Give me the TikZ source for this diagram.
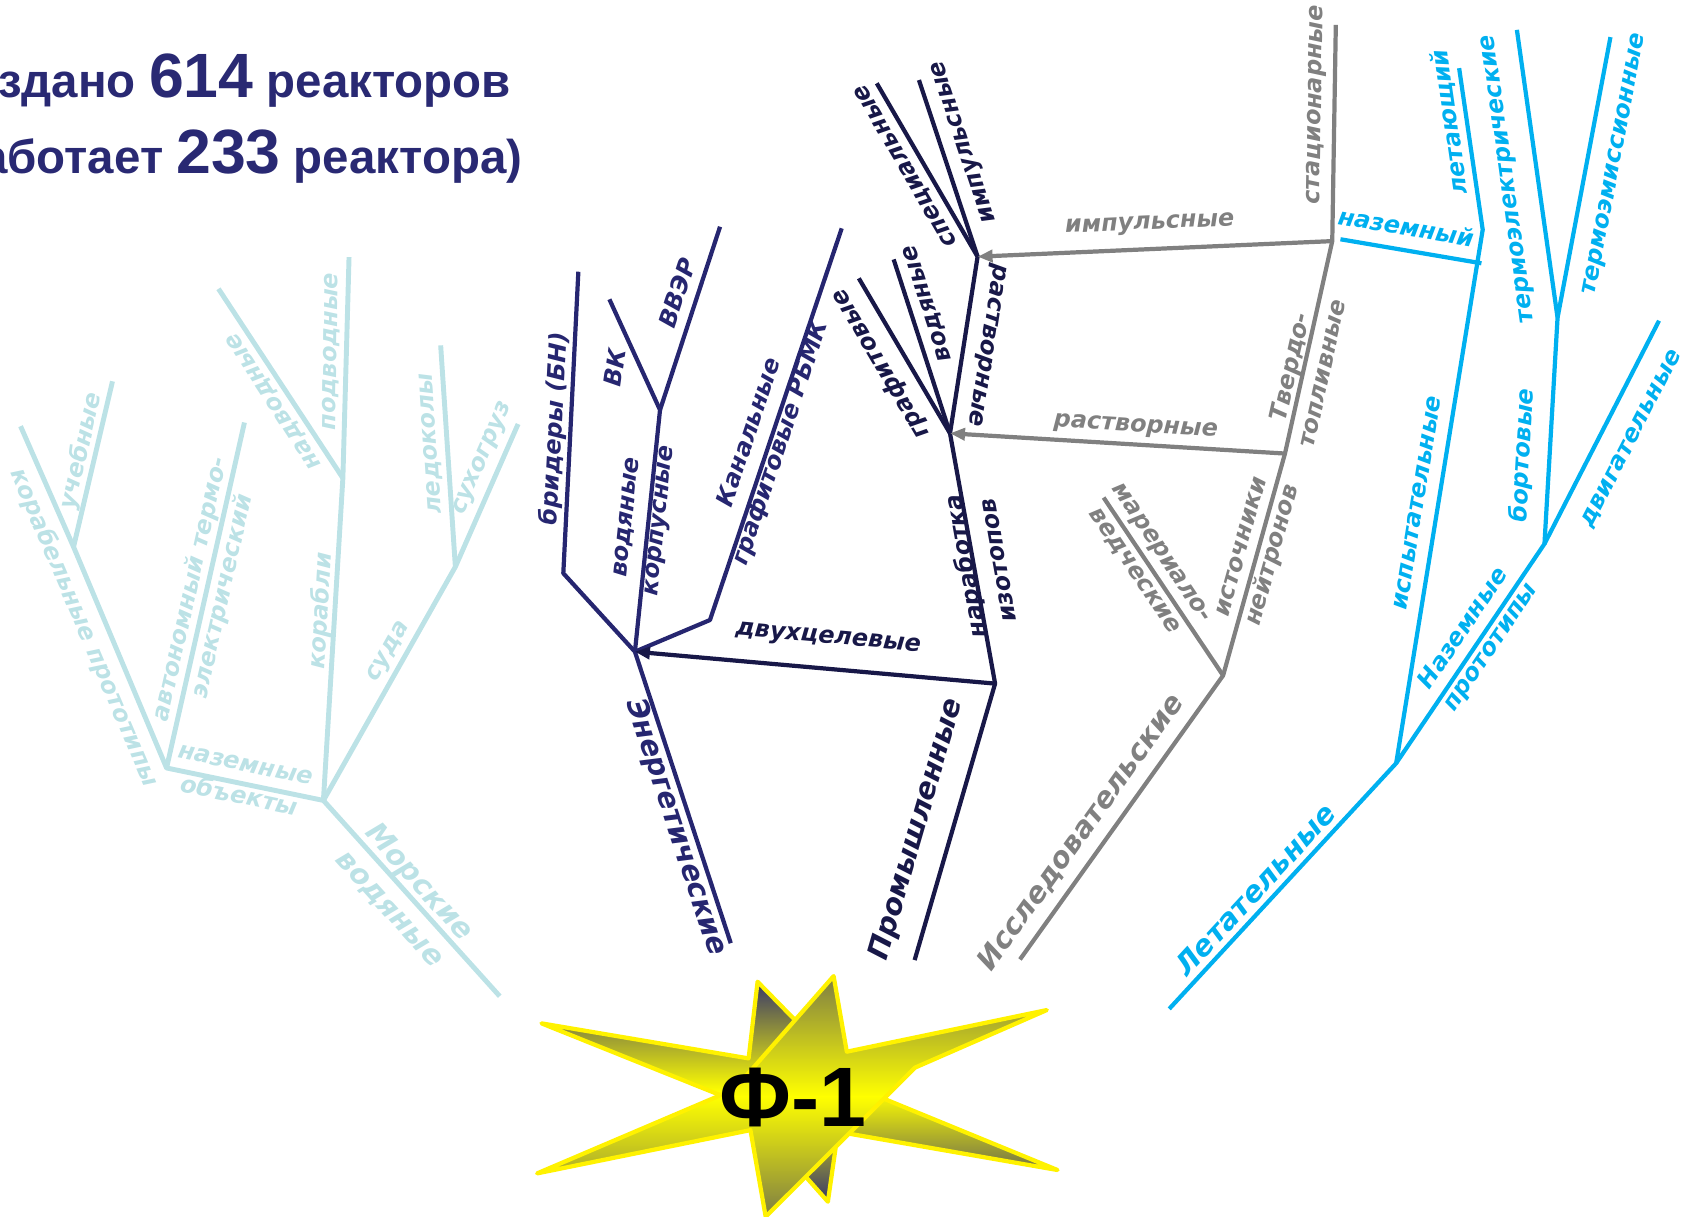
\documentclass[tikz,border=0pt]{standalone}
\usepackage{fontspec}
\usepackage{tikz}
\usetikzlibrary{arrows.meta}

\newfontfamily\lblfont{DejaVu Sans}
\newfontfamily\headfont{Liberation Sans}

\definecolor{seacol}{RGB}{188,226,230}
\definecolor{powercol}{RGB}{38,38,112}
\definecolor{plantcol}{RGB}{24,24,72}
\definecolor{labcol}{RGB}{128,128,128}
\definecolor{aircol}{RGB}{0,176,240}
\definecolor{headcol}{RGB}{41,41,115}
\definecolor{stardark}{RGB}{55,55,105}

\begin{document}
\begin{tikzpicture}[
  x=0.10816mm, y=-0.10816mm,
  branch/.style={line width=1.2pt, line join=round},
  sea/.style={branch, draw=seacol, line width=1.4pt},
  power/.style={branch, draw=powercol},
  plant/.style={branch, draw=plantcol},
  lab/.style={branch, draw=labcol},
  air/.style={branch, draw=aircol},
  arrow/.style={-{Triangle[length=1.5mm,width=1.2mm]}},
  lbl/.style={font=\lblfont\bfseries\itshape\fontsize{6.8}{9.3}\selectfont, inner sep=0pt, align=center},
  biglbl/.style={lbl, font=\lblfont\bfseries\itshape\fontsize{8.2}{11.3}\selectfont},
  head/.style={font=\headfont\bfseries\fontsize{13.5}{16}\selectfont, text=headcol, inner sep=0pt, anchor=base east},
  burst/.style={draw=yellow, line width=1.2pt, line join=round}
]
\clip[use as bounding box] (0,0) rectangle (1568,1125);

\node[head] (built) at (473,89.7) {Создано {\fontsize{17.8}{20}\selectfont 614} реакторов};
\node[head] (working) at (483.5,160) {(работает {\fontsize{17.8}{20}\selectfont 233} реактора)};

% sea
\coordinate (seaRoot) at (462,921);
\coordinate (seaHub) at (299,740);
\coordinate (groundHub) at (154,710);
\coordinate (trainHub) at (68,505.6);
\coordinate (protoTop) at (19,394);
\coordinate (trainTop) at (104,352.5);
\coordinate (autoTop) at (226,390.6);
\coordinate (shipHub) at (317,442);
\coordinate (subTop) at (322.7,237.7);
\coordinate (surfTop) at (202,267);
\coordinate (vesselHub) at (421,524);
\coordinate (iceTop) at (407.4,319.3);
\coordinate (cargoTop) at (479,392);

\draw[sea] (seaRoot) -- (seaHub) -- (groundHub) -- (trainHub) -- (protoTop);
\draw[sea] (trainHub) -- (trainTop);
\draw[sea] (groundHub) -- (autoTop);
\draw[sea] (seaHub) -- (shipHub) -- (subTop);
\draw[sea] (shipHub) -- (surfTop);
\draw[sea] (seaHub) -- (vesselHub) -- (iceTop);
\draw[sea] (vesselHub) -- (cargoTop);

\node[lbl, text=seacol, rotate=-66.9] (shipProto) at (77.8,580.5) {корабельные прототипы};
\node[lbl, text=seacol, rotate=76.8] (training) at (75,417) {учебные};
\node[lbl, text=seacol, rotate=77.3] (autonomous) at (191,548) {автономный термо-\\электрический};
\node[lbl, text=seacol, rotate=-11.7] (groundObj) at (224,722) {наземные\\объекты};
\node[biglbl, text=seacol, rotate=-48] (marine) at (374,828) {Морские\\водяные};
\node[lbl, text=seacol, rotate=86.5] (ships) at (297,565) {корабли};
\node[lbl, text=seacol, rotate=89] (submarine) at (306.7,325) {подводные};
\node[lbl, text=seacol, rotate=123] (surface) at (253.5,370.6) {надводные};
\node[lbl, text=seacol, rotate=60.5] (vessels) at (360,603) {суда};
\node[lbl, text=seacol, rotate=94] (icebreak) at (399,410) {ледоколы};
\node[lbl, text=seacol, rotate=66.3] (cargo) at (447,424) {сухогруз};

% power
\coordinate (powerRoot) at (675.6,872);
\coordinate (powerHub) at (587,602.5);
\coordinate (breedBend) at (520.8,530);
\coordinate (breedTop) at (534.7,251.2);
\coordinate (waterHub) at (610.2,379);
\coordinate (vkTop) at (563.4,276.7);
\coordinate (vverTop) at (665.7,209.6);
\coordinate (rbmkBend) at (656.4,573.2);
\coordinate (rbmkTop) at (778.2,211.1);

\draw[power] (powerRoot) -- (powerHub) -- (breedBend) -- (breedTop);
\draw[power] (powerHub) -- (waterHub) -- (vkTop);
\draw[power] (waterHub) -- (vverTop);
\draw[power] (powerHub) -- (rbmkBend) -- (rbmkTop);

\node[lbl, text=powercol, rotate=87] (breeders) at (513,396) {бридеры (БН)};
\node[lbl, text=powercol, rotate=82] (vk) at (568.5,340) {ВК};
\node[lbl, text=powercol, rotate=71.8] (vver) at (626,271) {ВВЭР};
\node[lbl, text=powercol, rotate=84] (vessel) at (596,480) {водяные\\корпусные};
\node[lbl, text=powercol, rotate=71.4] (channel) at (708,405) {Канальные\\графитовые РБМК};
\node[biglbl, text=powercol, rotate=-71.8] (energy) at (624.5,765) {Энергетические};

% plant
\coordinate (plantRoot) at (845.6,887.6);
\coordinate (plantHub) at (920,632);
\coordinate (solHub) at (878.3,400.6);
\coordinate (graphTop) at (794,257.3);
\coordinate (aquaTop) at (826.2,239.8);
\coordinate (pulseHub) at (903.8,237.3);
\coordinate (specTop) at (810.6,77);
\coordinate (pulseTop) at (849.6,74);

\draw[plant] (plantRoot) -- (plantHub) -- (solHub) -- (graphTop);
\draw[plant] (solHub) -- (aquaTop);
\draw[plant] (solHub) -- (pulseHub) -- (specTop);
\draw[plant] (pulseHub) -- (pulseTop);
\draw[plant, arrow] (plantHub) -- (powerHub);

\node[lbl, text=plantcol, rotate=-5.2] (dual) at (765.5,591) {двухцелевые};
\node[biglbl, text=plantcol, rotate=73.8] (industry) at (848,766.6) {Промышленные};
\node[lbl, text=plantcol, rotate=100.2] (isotopes) at (906.4,521) {наработка\\изотопов};
\node[lbl, text=plantcol, rotate=120.5] (graphite) at (814.4,336.7) {графитовые};
\node[lbl, text=plantcol, rotate=108] (aqua) at (858.4,280.5) {водяные};
\node[lbl, text=plantcol, rotate=-98.9] (solution) at (911.5,319) {растворные};
\node[lbl, text=plantcol, rotate=120.2] (special) at (838,153) {специальные};
\node[lbl, text=plantcol, rotate=108.4] (pulsed) at (892,131) {импульсные};

% lab
\coordinate (labRoot) at (943,887);
\coordinate (labHub) at (1130.8,624.5);
\coordinate (matTop) at (1020.3,460);
\coordinate (srcHub) at (1188,419.3);
\coordinate (fuelHub) at (1231.7,222.9);
\coordinate (statTop) at (1235,23);

\draw[lab] (labRoot) -- (labHub) -- (matTop);
\draw[lab] (labHub) -- (srcHub) -- (fuelHub) -- (statTop);
\draw[lab, arrow] (fuelHub) -- (pulseHub);
\draw[lab, arrow] (srcHub) -- (solHub);

\node[lbl, text=labcol, rotate=89] (stationary) at (1217.5,97) {стационарные};
\node[lbl, text=labcol, rotate=2.5] (pulsedArrow) at (1063,208) {импульсные};
\node[lbl, text=labcol, rotate=-3.5] (solutionArrow) at (1050,395) {растворные};
\node[lbl, text=labcol, rotate=77.5] (solidFuel) at (1207,342) {Твердо-\\топливные};
\node[lbl, text=labcol, rotate=74.4] (neutron) at (1164,510) {источники\\нейтронов};
\node[lbl, text=labcol, rotate=-56.1] (material) at (1061,520) {марериало-\\ведческие};
\node[biglbl, text=labcol, rotate=54.4] (research) at (999.8,769.5) {Исследовательские};

% air
\coordinate (airRoot) at (1081,932.7);
\coordinate (airHub) at (1290.8,705.6);
\coordinate (testBend) at (1370.8,212.3);
\coordinate (flyTop) at (1349,63);
\coordinate (groundStart) at (1239.3,221.2);
\coordinate (groundEnd) at (1369.6,243.4);
\coordinate (protoHub) at (1427.9,502.8);
\coordinate (boardHub) at (1440,293.7);
\coordinate (engineTop) at (1533.8,296.5);
\coordinate (telTop) at (1402.4,27.6);
\coordinate (temTop) at (1488.9,34.3);

\draw[air] (airRoot) -- (airHub) -- (testBend) -- (flyTop);
\draw[air] (groundStart) -- (groundEnd);
\draw[air] (airHub) -- (protoHub) -- (boardHub) -- (telTop);
\draw[air] (protoHub) -- (engineTop);
\draw[air] (boardHub) -- (temTop);

\node[biglbl, text=aircol, rotate=47.3] (aircraft) at (1160.3,822.4) {Летательные};
\node[lbl, text=aircol, rotate=80.8] (testing) at (1310.5,465) {испытательные};
\node[lbl, text=aircol, rotate=55.9] (groundProto) at (1366,590) {Наземные\\прототипы};
\node[lbl, text=aircol, rotate=-9.7] (groundOne) at (1300,209.6) {наземный};
\node[lbl, text=aircol, rotate=98.3] (flying) at (1340.5,113) {летающий};
\node[lbl, text=aircol, rotate=98] (thermoEl) at (1395.5,165.4) {термоэлектрические};
\node[lbl, text=aircol, rotate=79.3] (thermoEm) at (1493.6,152) {термоэмиссионные};
\node[lbl, text=aircol, rotate=86.7] (onboard) at (1408,421) {бортовые};
\node[lbl, text=aircol, rotate=62.8] (engine) at (1509,406) {двигательные};

% F-1
\path[burst, top color=stardark, bottom color=stardark, middle color=yellow]
  (500.6,946.1) -- (692.1,978.5) -- (700.4,907.6) -- (798.7,1008.2) -- (977.7,1081.7)
  -- (774.7,1046.3) -- (765.4,1111) -- (684.7,1020) -- cycle;
\path[burst, top color=stardark!65!yellow, bottom color=stardark!65!yellow, middle color=yellow]
  (770.7,902.4) -- (782.9,972.3) -- (967.8,933.8) -- (846,987) -- (707.9,1124.9)
  -- (693.8,1044.8) -- (496.6,1084.8) -- (679,1007) -- cycle;
\node[font=\headfont\bfseries\fontsize{24}{27}\selectfont, inner sep=0pt] (f1) at (733,1015) {Ф-1};

\end{tikzpicture}
\end{document}
